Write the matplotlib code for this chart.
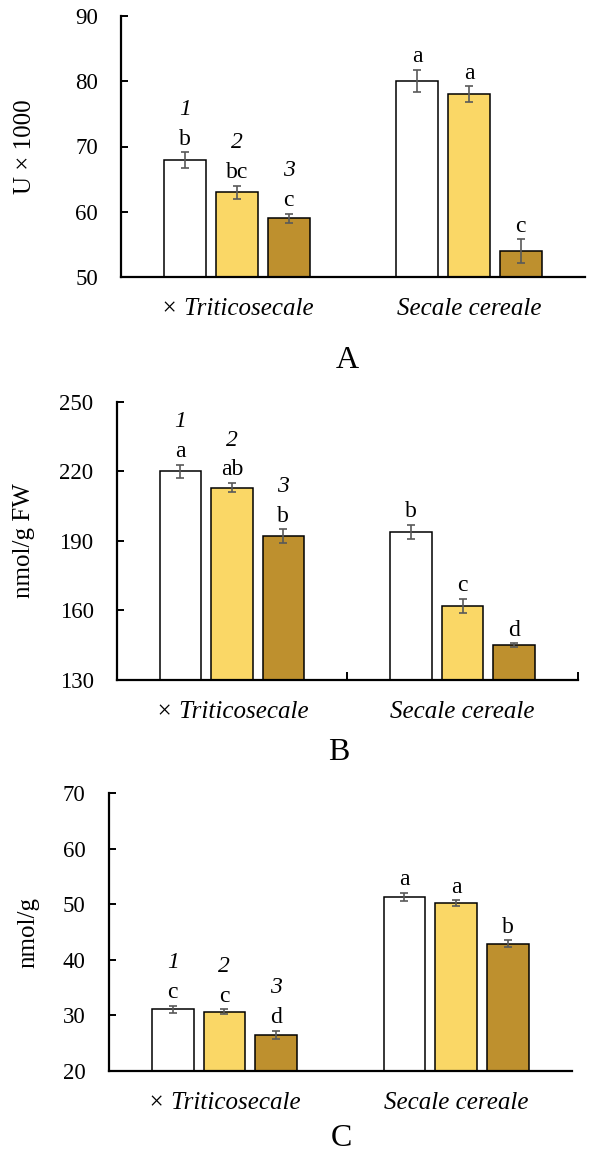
import numpy as np
import matplotlib.pyplot as plt
from matplotlib.ticker import FixedLocator

# =========================
# Data
# =========================
species = ["× Triticosecale", "Secale cereale"]
treat_colors = ["#FFFFFF", "#FAD766", "#BE902E"]
treat_numbers = ["1", "2", "3"]

# panel A: U x 1000
a_vals = [[67.9, 63.0, 59.0], [80.1, 78.0, 54.0]]
a_errs = [[1.2, 1.0, 0.7], [1.7, 1.2, 1.8]]
a_letters = [["b", "bc", "c"], ["a", "a", "c"]]

# panel B: nmol/g FW
b_vals = [[220.0, 213.0, 192.0], [194.0, 162.0, 145.0]]
b_errs = [[3.0, 2.0, 3.0], [3.0, 3.0, 0.8]]
b_letters = [["a", "ab", "b"], ["b", "c", "d"]]

# panel C: nmol/g
c_vals = [[31.1, 30.7, 26.5], [51.3, 50.2, 42.9]]
c_errs = [[0.6, 0.4, 0.7], [0.7, 0.5, 0.6]]
c_letters = [["c", "c", "d"], ["a", "a", "b"]]

plt.rcParams["font.family"] = ["Liberation Serif", "DejaVu Serif"]
plt.rcParams["axes.linewidth"] = 1.6

W, H = 589, 1151
fig = plt.figure(figsize=(W / 100, H / 100), dpi=100)


def px_axes(left, right, top, bottom):
    return fig.add_axes([left / W, 1 - bottom / H, (right - left) / W, (bottom - top) / H])


def draw_panel(ax, vals, errs, letters, ylim, yticks, ylabel, ylabel_x, mid_ticks=False):
    width = 0.18
    step = 0.223
    for g in range(len(species)):
        for t in range(3):
            x = g + (t - 1) * step
            ax.bar(x, vals[g][t], width=width, bottom=0, color=treat_colors[t],
                   edgecolor="black", linewidth=1.1, zorder=2)
            ax.errorbar(x, vals[g][t], yerr=errs[g][t], color="#595959",
                        elinewidth=1.2, capsize=2.6, capthick=1.2, zorder=3)
            top = vals[g][t] + errs[g][t]
            ax.annotate(letters[g][t], xy=(x, top), xytext=(0, 5.5),
                        textcoords="offset points", ha="center", va="baseline",
                        fontsize=17)
            if g == 0:
                ax.annotate(treat_numbers[t], xy=(x, top), xytext=(0, 27),
                            textcoords="offset points", ha="center", va="baseline",
                            fontsize=17, style="italic")

    ax.set_xlim(-0.5, 1.5)
    ax.set_ylim(*ylim)
    ax.set_yticks(yticks)
    ax.tick_params(axis="y", direction="in", length=5, width=1.4, labelsize=16.5, pad=16.5)
    ax.set_xticks(range(len(species)))
    ax.set_xticklabels(species, fontsize=18, style="italic")
    ax.tick_params(axis="x", length=0, pad=15)
    if mid_ticks:
        ax.xaxis.set_minor_locator(FixedLocator([0.5, 1.5]))
        ax.tick_params(axis="x", which="minor", direction="in", length=6, width=1.4)
    ax.spines["top"].set_visible(False)
    ax.spines["right"].set_visible(False)
    ax.set_ylabel(ylabel, fontsize=18)
    ax.yaxis.set_label_coords(ylabel_x, 0.5)


ax_a = px_axes(121, 585, 16, 277)
draw_panel(ax_a, a_vals, a_errs, a_letters, (50, 90), [50, 60, 70, 80, 90],
           "U × 1000", -0.183)

ax_b = px_axes(116.5, 578, 402, 680)
draw_panel(ax_b, b_vals, b_errs, b_letters, (130, 250), [130, 160, 190, 220, 250],
           "nmol/g FW", -0.177, mid_ticks=True)

ax_c = px_axes(108.5, 572, 793, 1071)
draw_panel(ax_c, c_vals, c_errs, c_letters, (20, 70), [20, 30, 40, 50, 60, 70],
           "nmol/g", -0.149)

fig.text(347 / W, 1 - 360 / H, "A", ha="center", va="center", fontsize=23)
fig.text(339 / W, 1 - 753 / H, "B", ha="center", va="center", fontsize=23)
fig.text(341 / W, 1 - 1139 / H, "C", ha="center", va="center", fontsize=23)

fig.savefig("out.png", dpi=100)
